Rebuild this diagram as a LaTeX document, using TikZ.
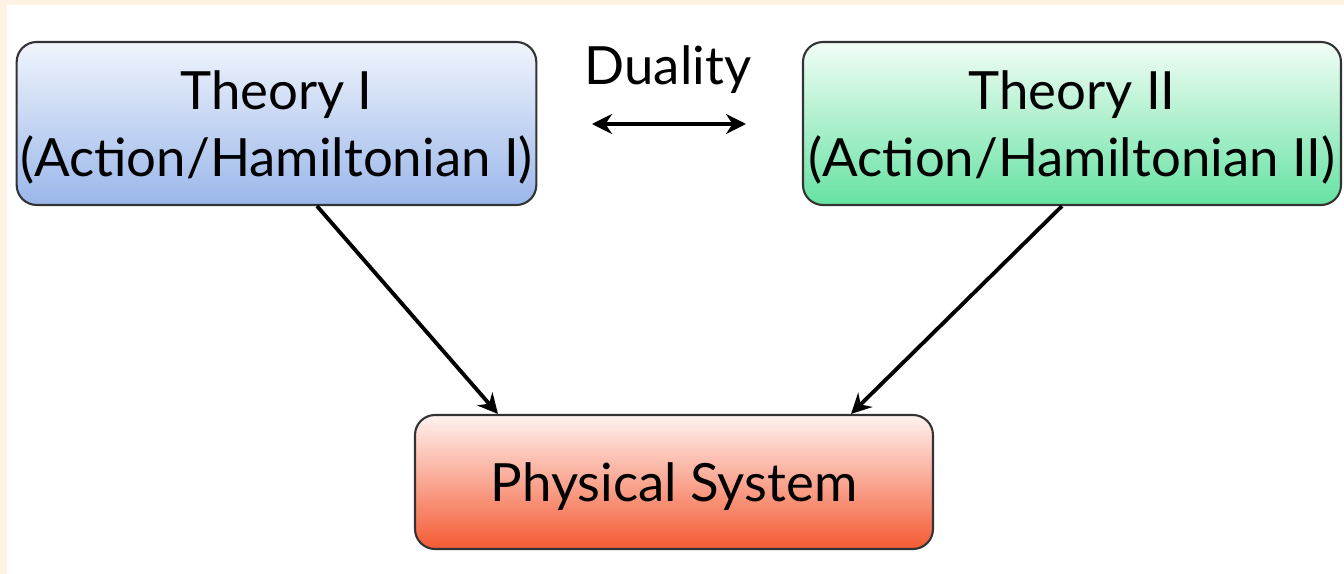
\documentclass[tikz,border=0pt]{standalone}
\usepackage{fontspec}
\setmainfont{Lato}
\usetikzlibrary{arrows.meta, calc}

\definecolor{paper}{HTML}{FDF2E3}
\definecolor{blueTop}{HTML}{F0F4FC}
\definecolor{blueBot}{HTML}{9AB7EA}
\definecolor{greenTop}{HTML}{F2FDF6}
\definecolor{greenBot}{HTML}{66E2A3}
\definecolor{redTop}{HTML}{FFF2F0}
\definecolor{redBot}{HTML}{F45A33}

\tikzset{
    theory/.style={draw=black!80, line width=0.6pt, rounded corners=2mm,
        minimum height=1.63cm, inner sep=1pt, text depth=0pt, align=center,
        font=\fontsize{15}{19}\selectfont},
    link/.style={line width=1.1pt, -{Stealth[length=2mm, width=2mm]}},
}

\begin{document}
\begin{tikzpicture}

    % --- Page ---
    \fill[paper] (0,0) rectangle (13.44,5.74);
    \fill[white] (0.07,0) rectangle (13.44,5.69);
    \useasboundingbox (0,0) rectangle (13.44,5.74);

    % --- Boxes ---
    \node[theory, minimum width=5.19cm, top color=blueTop, bottom color=blueBot]
        (thA) at (2.765,4.505) {Theory I\\(Action/Hamiltonian I)};
    \node[theory, minimum width=5.38cm, top color=greenTop, bottom color=greenBot]
        (thB) at (10.72,4.505) {Theory II\\(Action/Hamiltonian II)};
    \node[theory, minimum width=5.18cm, minimum height=1.34cm,
        top color=redTop, bottom color=redBot]
        (phys) at (6.74,0.92) {Physical System};

    % --- Duality ---
    \node[font=\fontsize{15}{19}\selectfont] (dual) at (6.68,5.04) {Duality};
    \coordinate (dl) at (5.92,4.50);
    \coordinate (dr) at (7.46,4.50);
    \draw[line width=1.1pt, {Stealth[length=2mm, width=2mm]}-{Stealth[length=2mm, width=2mm]}]
        (dl) -- (dr);

    % --- Arrows into the physical system ---
    \draw[link] ([xshift=4.05mm]thA.south) -- ([xshift=-17.6mm]phys.north);
    \draw[link] ([xshift=-1mm]thB.south) -- ([xshift=17.7mm]phys.north);

\end{tikzpicture}
\end{document}
